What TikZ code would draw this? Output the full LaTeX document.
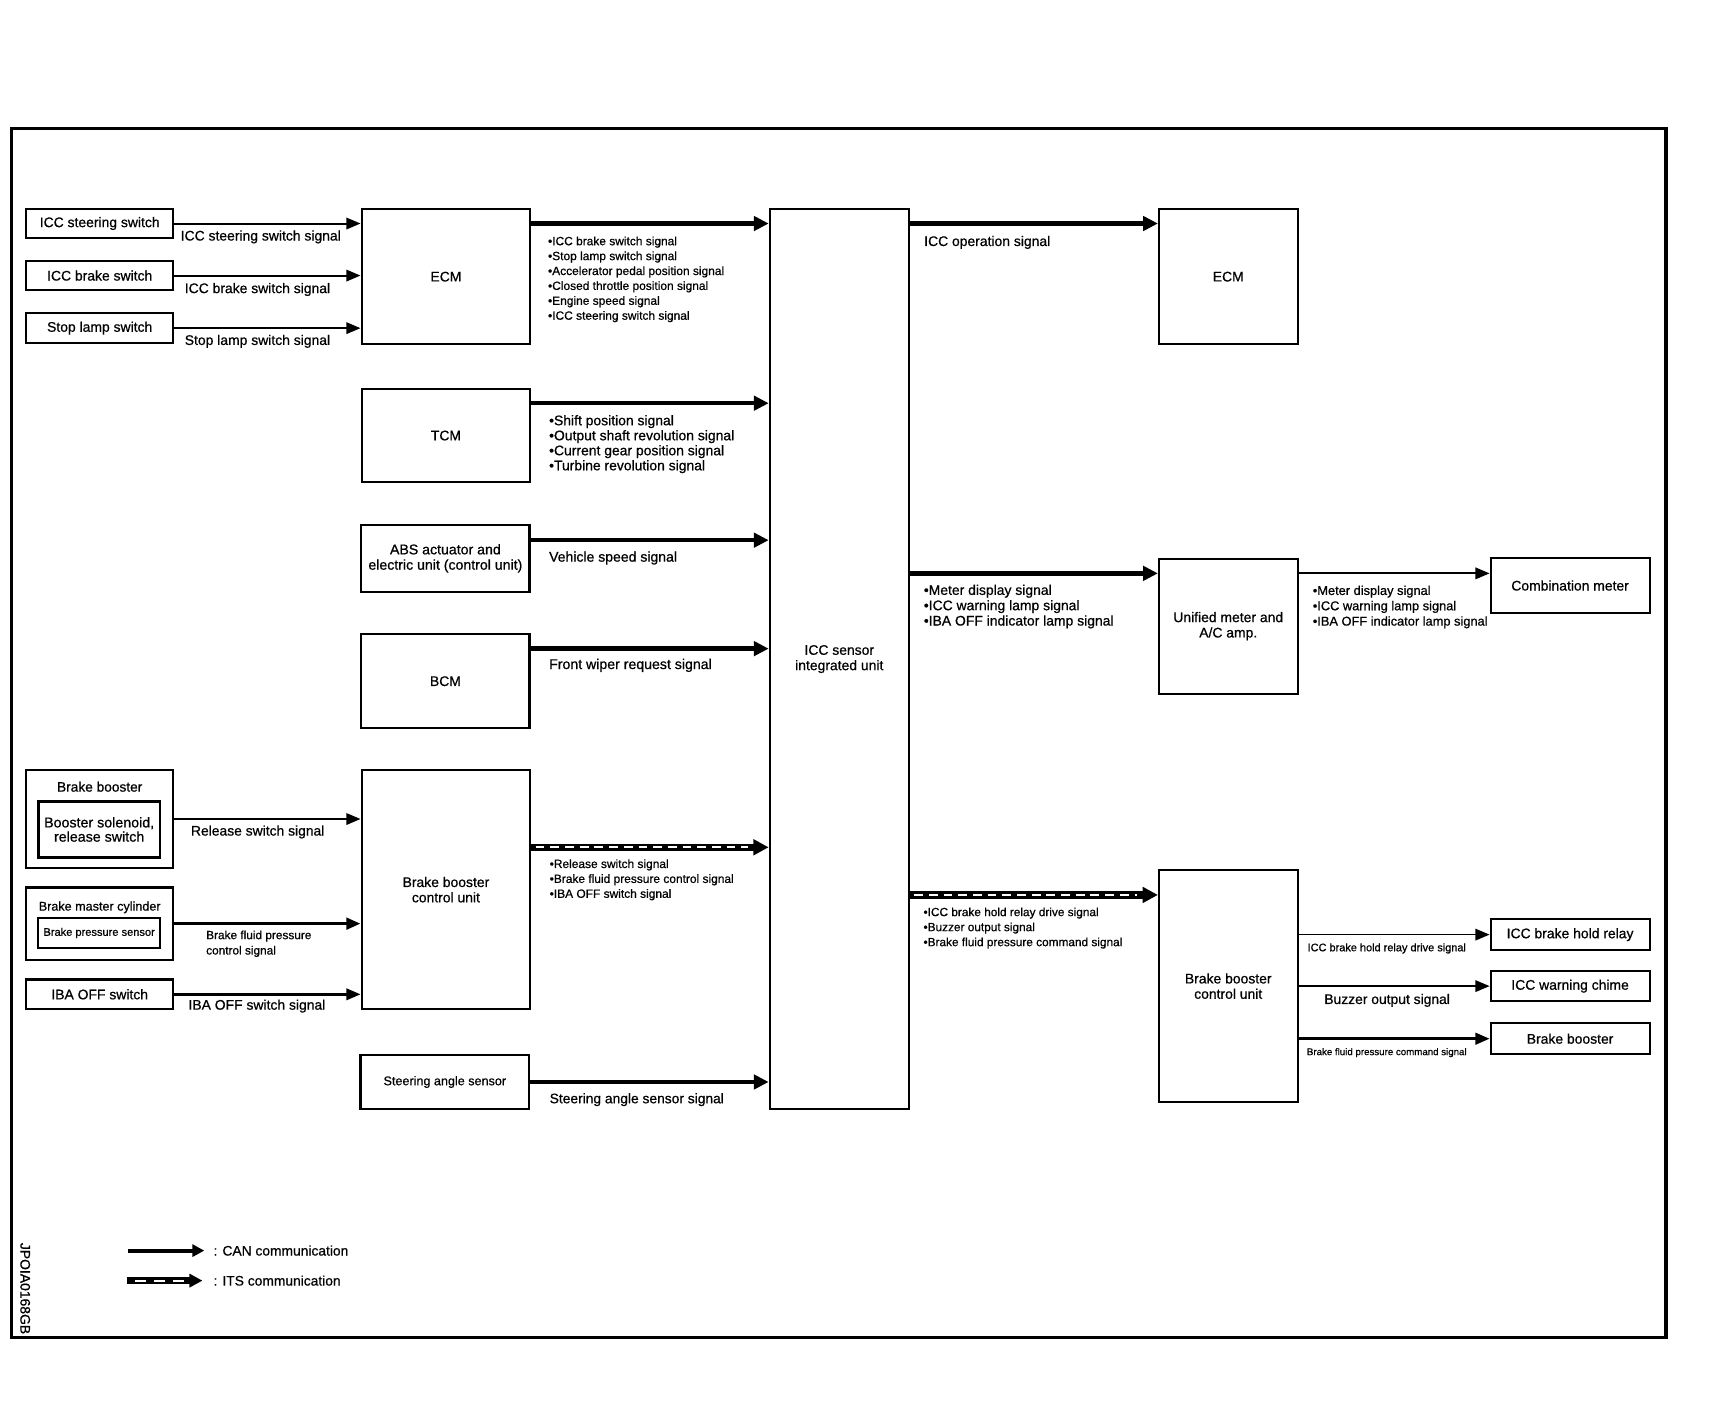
\documentclass[tikz,border=0pt]{standalone}
\usepackage{fontspec}
\setmainfont{Liberation Sans}[FakeBold=0.7]
\usetikzlibrary{arrows.meta,calc}
\newcommand\fsz[2]{\fontsize{#1pt}{#2pt}\selectfont}
\begin{document}
\begin{tikzpicture}[x=1pt,y=-1pt,
  box/.style={draw, line width=1.9pt, inner sep=0pt, align=center, font=\fsz{12.7}{14}},
  lbl/.style={inner sep=0pt, align=left},
  can/.style={line width=4pt, -{Triangle[length=13.5pt,width=13pt]}},
  sig/.style={line width=1.8pt, -{Triangle[length=13pt,width=10.5pt]}},
  itsb/.style={line width=6.5pt, -{Triangle[length=14pt,width=14pt]}},
  itsw/.style={line width=2.2pt, white, dash pattern=on 8pt off 5.4pt},
  cansmall/.style={line width=3.7pt, -{Triangle[length=11pt,width=11pt]}},
  itssmall/.style={line width=6pt, -{Triangle[length=12pt,width=12pt]}},
  itswsmall/.style={line width=2pt, white, dash pattern=on 10pt off 7pt}]
\useasboundingbox (0,0) rectangle (1568,1285);
\draw[line width=3pt] (10.5,117.5) rectangle (1520.5,1221);

% ---------- boxes ----------
\node[box, minimum width=134pt, minimum height=26pt] (sw1) at (91,204) {ICC steering switch};
\node[box, minimum width=134pt, minimum height=26pt] (sw2) at (91,251.5) {ICC brake switch};
\node[box, minimum width=134pt, minimum height=27pt] (sw3) at (91,299.5) {Stop lamp switch};
\node[box, minimum width=154pt, minimum height=123pt] (ecm1) at (407,252.5) {ECM};
\node[box, minimum width=154pt, minimum height=85pt] (tcm) at (407,397.5) {TCM};
\node[box, minimum width=153.5pt, minimum height=61pt, font=\fsz{12.9}{14}] (abs) at (406.5,509.6) {ABS actuator and\\electric unit (control unit)};
\node[box, minimum width=153.5pt, minimum height=86pt] (bcm) at (406.5,621.7) {BCM};
\node[box, minimum width=134pt, minimum height=89pt] (bbout) at (91,747.5) {};
\node[box, line width=2.3pt, minimum width=111pt, minimum height=51pt, font=\fsz{13}{13}] (bbin) at (90.5,757) {Booster solenoid,\\release switch};
\node[box, minimum width=134pt, minimum height=66pt] (bmc) at (91,843) {};
\node[box, minimum width=111pt, minimum height=27pt, font=\fsz{10.1}{12}] (bps) at (90.5,851.5) {Brake pressure sensor};
\node[box, minimum width=134pt, minimum height=27pt] (iba) at (91,907.5) {IBA OFF switch};
\node[box, minimum width=154pt, minimum height=218pt] (bbcu1) at (407,812) {Brake booster\\control unit};
\node[box, minimum width=154pt, minimum height=49pt, font=\fsz{11.5}{13}] (sas) at (406,987.5) {Steering angle sensor};
\node[box, minimum width=127pt, minimum height=821.5pt] (icc) at (766,601.5) {ICC sensor\\integrated unit};
\node[box, minimum width=126.5pt, minimum height=123pt] (ecm2) at (1121,252.5) {ECM};
\node[box, minimum width=126.5pt, minimum height=123pt] (umeter) at (1121,571.5) {Unified meter and\\A/C amp.};
\node[box, minimum width=145pt, minimum height=49.6pt] (cmeter) at (1433,534.4) {Combination meter};
\node[box, minimum width=126.5pt, minimum height=212pt] (bbcu2) at (1121,900) {Brake booster\\control unit};
\node[box, minimum width=145pt, minimum height=28pt] (relay) at (1433,853) {ICC brake hold relay};
\node[box, minimum width=145pt, minimum height=28pt] (chime) at (1433,900) {ICC warning chime};
\node[box, minimum width=145pt, minimum height=28pt] (boost2) at (1433,948) {Brake booster};

% titles inside outer boxes
\node[lbl, anchor=base, font=\fsz{12.5}{14}] (bbtitle) at (91,722.5) {Brake booster};
\node[lbl, anchor=base, font=\fsz{11.5}{13}] (bmctitle) at (91,831.1) {Brake master cylinder};

% ---------- connector rows ----------
\coordinate (r204) at (0,204);
\coordinate (r368) at (0,368);
\coordinate (r493) at (0,493);
\coordinate (r592) at (0,592);
\coordinate (r523) at (0,523.3);
\coordinate (r773) at (0,773.3);
\coordinate (r817) at (0,816.8);

% inputs to ECM
\draw[sig] (sw1.east) -- (sw1.east -| ecm1.west);
\draw[sig] (sw2.east) -- (sw2.east -| ecm1.west);
\draw[sig] (sw3.east) -- (sw3.east -| ecm1.west);
% inputs to brake booster control unit
\draw[sig] (bbout.east) -- (bbout.east -| bbcu1.west);
\draw[sig, line width=3pt] (bmc.east) -- (bmc.east -| bbcu1.west);
\draw[sig, line width=2.2pt] (iba.east) -- (iba.east -| bbcu1.west);
% CAN into ICC
\draw[can] (ecm1.east |- r204) -- (icc.west |- r204);
\draw[can] (tcm.east |- r368) -- (icc.west |- r368);
\draw[can] (abs.east |- r493) -- (icc.west |- r493);
\draw[can] (bcm.east |- r592) -- (icc.west |- r592);
\draw[can] (sas.east) -- (sas.east -| icc.west);
% CAN out of ICC
\draw[can] (icc.east |- r204) -- (ecm2.west |- r204);
\draw[can] (icc.east |- r523) -- (umeter.west |- r523);
\draw[sig] (umeter.east |- r523) -- (cmeter.west |- r523);
% ITS
\coordinate (itsa1) at (bbcu1.east |- r773);
\coordinate (itsb1) at (icc.west |- r773);
\draw[itsb] (itsa1) -- (itsb1);
\draw[itsw] ($(itsa1)+(4,0)$) -- ($(itsb1)+(-19,0)$);
\coordinate (itsa2) at (icc.east |- r817);
\coordinate (itsb2) at (bbcu2.west |- r817);
\draw[itsb] (itsa2) -- (itsb2);
\draw[itsw] ($(itsa2)+(4,0)$) -- ($(itsb2)+(-19,0)$);
% outputs of right brake booster control unit
\draw[sig, line width=1.6pt] (relay.west -| bbcu2.east) -- (relay.west);
\draw[sig, line width=1.6pt] (chime.west -| bbcu2.east) -- (chime.west);
\draw[sig, line width=2.6pt] (boost2.west -| bbcu2.east) -- (boost2.west);

% ---------- labels ----------
\node[lbl, anchor=base, font=\fsz{12.7}{14}] (l1) at (238,219.5) {ICC steering switch signal};
\node[lbl, anchor=base, font=\fsz{12.7}{14}] (l2) at (235,267.5) {ICC brake switch signal};
\node[lbl, anchor=base, font=\fsz{12.7}{14}] (l3) at (235,314.8) {Stop lamp switch signal};
\node[lbl, anchor=north west, font=\fsz{10.9}{13.6}] (l4) at (500,215.7) {•ICC brake switch signal\\•Stop lamp switch signal\\•Accelerator pedal position signal\\•Closed throttle position signal\\•Engine speed signal\\•ICC steering switch signal};
\node[lbl, anchor=north west, font=\fsz{12.7}{13.7}] (l5) at (501,378.7) {•Shift position signal\\•Output shaft revolution signal\\•Current gear position signal\\•Turbine revolution signal};
\node[lbl, anchor=base west, font=\fsz{12.8}{14}] (l6) at (501,512.6) {Vehicle speed signal};
\node[lbl, anchor=base west, font=\fsz{12.9}{14}] (l7) at (501,610.6) {Front wiper request signal};
\node[lbl, anchor=base, font=\fsz{12.66}{14}] (l8) at (235.2,762.6) {Release switch signal};
\node[lbl, anchor=north west, font=\fsz{10.8}{14}] (l9) at (188,849.1) {Brake fluid pressure\\control signal};
\node[lbl, anchor=base, font=\fsz{12.7}{14}] (l10) at (234.5,921.5) {IBA OFF switch signal};
\node[lbl, anchor=north west, font=\fsz{10.9}{13.6}] (l11) at (501.5,784.1) {•Release switch signal\\•Brake fluid pressure control signal\\•IBA OFF switch signal};
\node[lbl, anchor=base west, font=\fsz{12.6}{14}] (l12) at (501.5,1006.9) {Steering angle sensor signal};
\node[lbl, anchor=base west, font=\fsz{12.7}{14}] (l13) at (843.3,224.5) {ICC operation signal};
\node[lbl, anchor=north west, font=\fsz{12.7}{14}] (l14) at (843,533.5) {•Meter display signal\\•ICC warning lamp signal\\•IBA OFF indicator lamp signal};
\node[lbl, anchor=north west, font=\fsz{10.8}{13.7}] (l15) at (842.7,828.1) {•ICC brake hold relay drive signal\\•Buzzer output signal\\•Brake fluid pressure command signal};
\node[lbl, anchor=north west, font=\fsz{11.7}{14}] (l16) at (1198,534.3) {•Meter display signal\\•ICC warning lamp signal\\•IBA OFF indicator lamp signal};
\node[lbl, anchor=base, font=\fsz{10}{12}] (l17) at (1265.7,868.2) {ICC brake hold relay drive signal};
\node[lbl, anchor=base, font=\fsz{12.65}{14}] (l18) at (1266,916.3) {Buzzer output signal};
\node[lbl, anchor=base, font=\fsz{8.86}{10}] (l19) at (1265.7,963) {Brake fluid pressure command signal};

% ---------- legend ----------
\node[lbl, anchor=base west, font=\fsz{12.6}{14}] (leg1) at (194.7,1145.9) {: CAN communication};
\node[lbl, anchor=base west, font=\fsz{12.6}{14}] (leg2) at (194.7,1173.3) {: ITS communication};
\coordinate (cs1) at (117,1141.4);
\coordinate (ce1) at (186.5,1141.4);
\draw[cansmall] (cs1) -- (ce1);
\coordinate (cs2) at (115.6,1168.8);
\coordinate (ce2) at (184.8,1168.8);
\draw[itssmall] (cs2) -- (ce2);
\draw[itswsmall] ($(cs2)+(8,0)$) -- ($(ce2)+(-16,0)$);
\node[lbl, rotate=-90, font=\fsz{12.7}{14}] (code) at (23,1176) {JPOIA0168GB};
\end{tikzpicture}
\end{document}
